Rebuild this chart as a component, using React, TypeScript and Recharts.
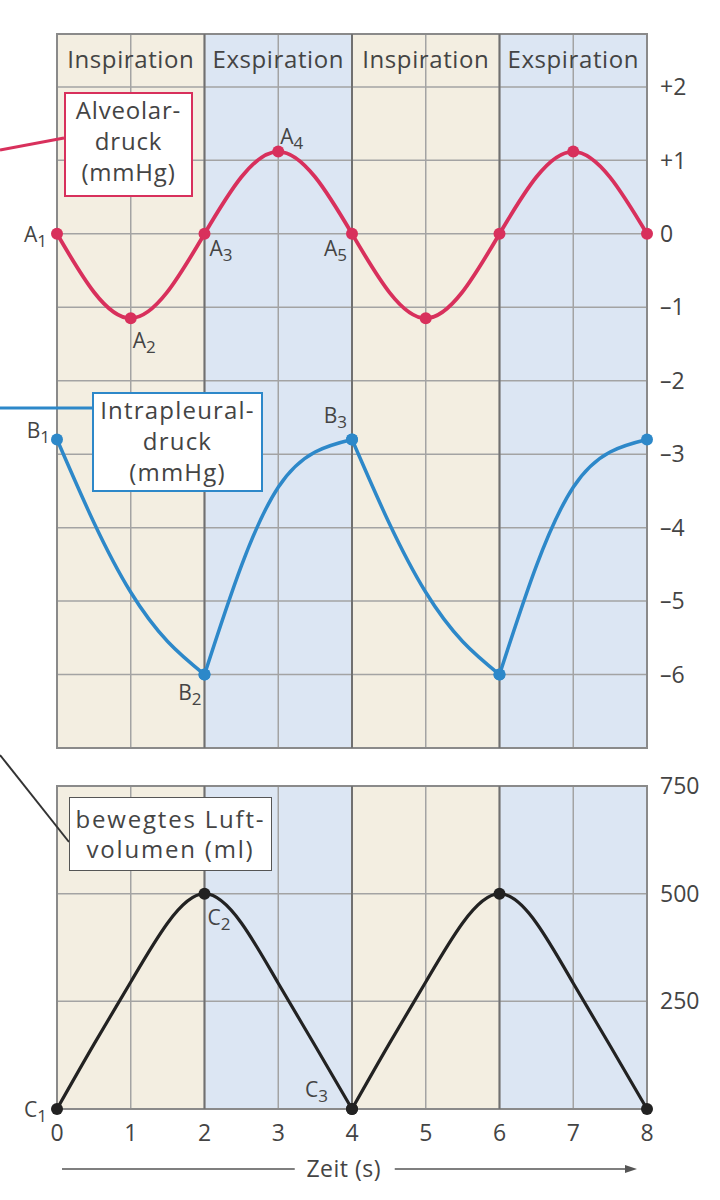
import React from "react";
import {
  LineChart,
  Line,
  XAxis,
  YAxis,
  CartesianGrid,
  ReferenceLine,
  ReferenceArea,
  LabelList,
  Label,
} from "recharts";

// time axis (s)
const time = [0, 1, 2, 3, 4, 5, 6, 7, 8];
const halfTime = [0, 0.5, 1, 1.5, 2, 2.5, 3, 3.5, 4, 4.5, 5, 5.5, 6, 6.5, 7, 7.5, 8];

// alveolar pressure (mmHg), read at whole seconds
const alveolar = [0, -1.15, 0, 1.12, 0, -1.15, 0, 1.12, 0];
const alveolarNames = ["A1", "A2", "A3", "A4", "A5", "", "", "", ""];

// intrapleural pressure (mmHg), read at half seconds, falling / rising branches
const pleuralFall = [-2.8, -3.93, -4.88, -5.55, -6, null, null, null, -2.8, -3.93, -4.88, -5.55, -6, null, null, null, null];
const pleuralRise = [null, null, null, null, -6, -4.52, -3.45, -2.97, -2.8, null, null, null, -6, -4.52, -3.45, -2.97, -2.8];
const pleuralNames = ["B1", "", "", "", "B2", "", "", "", "B3", "", "", "", "", "", "", "", ""];

// moved air volume (ml), read at half seconds, one branch per breath
const volumeFirst = [0, 150, 295, 432, 500, 432, 292, 147, 0, null, null, null, null, null, null, null, null];
const volumeSecond = [null, null, null, null, null, null, null, null, 0, 150, 295, 432, 500, 432, 292, 147, 0];
const volumeNames = ["C1", "", "", "", "C2", "", "", "", "C3", "", "", "", "", "", "", "", ""];

const phaseNames = ["Inspiration", "Exspiration", "Inspiration", "Exspiration"];
const phaseBounds = [0, 2, 4, 6, 8];
const pressureTicks = [-6, -5, -4, -3, -2, -1, 0, 1, 2];
const volumeTicks = [250, 500, 750];

const pressureData = halfTime.map((t, i) => {
  const k = time.indexOf(t);
  return {
    t,
    alveolar: k >= 0 ? alveolar[k] : null,
    alveolarName: k >= 0 ? alveolarNames[k] : "",
    pleuralFall: pleuralFall[i],
    pleuralRise: pleuralRise[i],
    pleuralName: pleuralNames[i],
  };
});

const volumeData = halfTime.map((t, i) => ({
  t,
  volumeFirst: volumeFirst[i],
  volumeSecond: volumeSecond[i],
  volumeName: volumeNames[i],
}));

const RED = "#d8305c";
const BLUE = "#2d88c9";
const BLACK = "#222";
const TEXT = "#444";
const GRID = "#a3a3a3";
const FONT = "'Open Sans', 'Noto Sans', sans-serif";
const stripeFill = ["#f3eee1", "#f3eee1", "#dce6f3", "#dce6f3"];

// where each point label sits relative to its dot
const labelPlacement: Record<string, { dx: number; dy: number; anchor: "start" | "end" }> = {
  A1: { dx: -10, dy: 8, anchor: "end" },
  A2: { dx: 2, dy: 30, anchor: "start" },
  A3: { dx: 5, dy: 22, anchor: "start" },
  A4: { dx: 2, dy: -8, anchor: "start" },
  A5: { dx: -5, dy: 22, anchor: "end" },
  B1: { dx: -7, dy: -1, anchor: "end" },
  B2: { dx: -3, dy: 25, anchor: "end" },
  B3: { dx: -5, dy: -16, anchor: "end" },
  C1: { dx: -10, dy: 8, anchor: "end" },
  C2: { dx: 3, dy: 31, anchor: "start" },
  C3: { dx: -24, dy: -12, anchor: "end" },
};

function PointLabel(props: any) {
  const { value } = props;
  if (!value || !labelPlacement[value]) return null;
  const vb = props.viewBox || {};
  const x = props.x ?? vb.x;
  const y = props.y ?? vb.y;
  const p = labelPlacement[value];
  return (
    <text x={x + p.dx} y={y + p.dy} textAnchor={p.anchor} fill={TEXT} fontSize={21}>
      {value[0]}
      <tspan fontSize={17} dy={5}>
        {value.slice(1)}
      </tspan>
    </text>
  );
}

const evenDot = (color: string) => (props: any) => {
  const { cx, cy, index, payload } = props;
  if (cy == null || payload.t % 2 !== 0) return <g key={`dot-${index}`} />;
  return <circle key={`dot-${index}`} cx={cx} cy={cy} r={6} fill={color} />;
};

function TimeAxisLabel(props: any) {
  const { x, y, width } = props.viewBox;
  const ly = y + 60;
  const mid = x + width * 0.486;
  const end = x + width - 10;
  return (
    <g>
      <line x1={x + 5} y1={ly} x2={mid - 49} y2={ly} stroke="#555" strokeWidth={1.5} />
      <text x={mid} y={ly + 8} textAnchor="middle" fontSize={23} fill={TEXT} letterSpacing={0.5}>
        Zeit (s)
      </text>
      <line x1={mid + 51} y1={ly} x2={end - 8} y2={ly} stroke="#555" strokeWidth={1.5} />
      <polygon points={`${end},${ly} ${end - 12},${ly - 4} ${end - 12},${ly + 4}`} fill="#555" />
    </g>
  );
}

const fmtPressure = (v: number) => (v > 0 ? `+${v}` : v < 0 ? `–${-v}` : "0");

export default function App() {
  return (
    <div
      style={{
        position: "absolute",
        left: 0,
        top: 0,
        width: 720,
        height: 1200,
        background: "#fff",
        fontFamily: FONT,
        overflow: "hidden",
      }}
    >
      <div style={{ position: "absolute", left: 0, top: 0 }}>
        <LineChart
          width={720}
          height={760}
          data={pressureData}
          margin={{ top: 34, right: 13, bottom: 12, left: 57 }}
        >
          <CartesianGrid stroke={GRID} strokeWidth={1.5} verticalFill={stripeFill} fillOpacity={1} />
          <XAxis dataKey="t" type="number" domain={[0, 8]} ticks={time} hide />
          <YAxis
            orientation="right"
            type="number"
            domain={[-7, 2.72]}
            ticks={pressureTicks}
            interval={0}
            width={60}
            axisLine={false}
            tickLine={false}
            tickMargin={7}
            tick={{ fill: TEXT, fontSize: 23 }}
            tickFormatter={fmtPressure}
          />
          {phaseNames.map((name, i) => (
            <ReferenceArea
              key={`phase-${i}`}
              x1={phaseBounds[i]}
              x2={phaseBounds[i + 1]}
              fill="none"
              stroke="none"
              label={{
                value: name,
                position: "insideTop",
                offset: 17,
                fontSize: 24,
                fill: TEXT,
                letterSpacing: 0.6,
              }}
            />
          ))}
          {phaseBounds.slice(1, -1).map((b) => (
            <ReferenceLine key={`sep-${b}`} x={b} stroke="#707070" strokeWidth={2} />
          ))}
          <ReferenceArea x1={0} x2={8} fill="none" stroke="#8a8a8a" strokeWidth={2} />
          <Line
            type="natural"
            dataKey="alveolar"
            stroke={RED}
            strokeWidth={3.8}
            connectNulls
            dot={{ r: 6, fill: RED, stroke: RED, strokeWidth: 0 }}
            isAnimationActive={false}
          >
            <LabelList dataKey="alveolarName" content={PointLabel} />
          </Line>
          <Line
            type="natural"
            dataKey="pleuralFall"
            stroke={BLUE}
            strokeWidth={3.5}
            dot={evenDot(BLUE)}
            isAnimationActive={false}
          >
            <LabelList dataKey="pleuralName" content={PointLabel} />
          </Line>
          <Line
            type="natural"
            dataKey="pleuralRise"
            stroke={BLUE}
            strokeWidth={3.5}
            dot={evenDot(BLUE)}
            isAnimationActive={false}
          />
        </LineChart>
      </div>

      <div style={{ position: "absolute", left: 0, top: 760 }}>
        <LineChart
          width={720}
          height={440}
          data={volumeData}
          margin={{ top: 26, right: 13, bottom: 21, left: 57 }}
        >
          <CartesianGrid stroke={GRID} strokeWidth={1.5} verticalFill={stripeFill} fillOpacity={1} />
          <XAxis
            dataKey="t"
            type="number"
            domain={[0, 8]}
            ticks={time}
            interval={0}
            height={70}
            axisLine={false}
            tickLine={false}
            tickMargin={10}
            tick={{ fill: TEXT, fontSize: 23 }}
          >
            <Label content={TimeAxisLabel} />
          </XAxis>
          <YAxis
            orientation="right"
            type="number"
            domain={[0, 750]}
            ticks={volumeTicks}
            interval={0}
            width={60}
            axisLine={false}
            tickLine={false}
            tickMargin={7}
            tick={{ fill: TEXT, fontSize: 23 }}
          />
          {phaseBounds.slice(1, -1).map((b) => (
            <ReferenceLine key={`vsep-${b}`} x={b} stroke="#707070" strokeWidth={2} />
          ))}
          <ReferenceArea x1={0} x2={8} fill="none" stroke="#8a8a8a" strokeWidth={2} />
          <Line
            type="natural"
            dataKey="volumeFirst"
            stroke={BLACK}
            strokeWidth={3.2}
            dot={evenDot(BLACK)}
            isAnimationActive={false}
          >
            <LabelList dataKey="volumeName" content={PointLabel} />
          </Line>
          <Line
            type="natural"
            dataKey="volumeSecond"
            stroke={BLACK}
            strokeWidth={3.2}
            dot={evenDot(BLACK)}
            isAnimationActive={false}
          />
        </LineChart>
      </div>

      {/* callout connectors */}
      <svg
        width={720}
        height={1200}
        style={{ position: "absolute", left: 0, top: 0, pointerEvents: "none" }}
      >
        <line x1={0} y1={150} x2={64} y2={138} stroke={RED} strokeWidth={3} />
        <line x1={0} y1={408} x2={92} y2={408} stroke={BLUE} strokeWidth={3} />
        <line x1={0} y1={755} x2={69} y2={842} stroke="#333" strokeWidth={2} />
      </svg>

      {/* callout boxes */}
      <div
        style={{
          ...boxStyle,
          left: 64,
          top: 92,
          width: 125,
          height: 101,
          letterSpacing: 0.8,
          border: `2px solid ${RED}`,
        }}
      >
        Alveolar-
        <br />
        druck
        <br />
        (mmHg)
      </div>
      <div
        style={{
          ...boxStyle,
          left: 92,
          top: 392,
          width: 167,
          height: 96,
          letterSpacing: 1.2,
          border: `2px solid ${BLUE}`,
        }}
      >
        Intrapleural-
        <br />
        druck
        <br />
        (mmHg)
      </div>
      <div
        style={{
          ...boxStyle,
          left: 69,
          top: 797,
          width: 201,
          height: 66,
          paddingTop: 6,
          lineHeight: "30px",
          letterSpacing: 1.8,
          border: "1.5px solid #555",
        }}
      >
        bewegtes Luft-
        <br />
        volumen (ml)
      </div>
    </div>
  );
}

const boxStyle: React.CSSProperties = {
  position: "absolute",
  background: "#fff",
  color: TEXT,
  fontSize: 24,
  lineHeight: "31px",
  textAlign: "center",
  boxSizing: "content-box",
  whiteSpace: "nowrap",
};
